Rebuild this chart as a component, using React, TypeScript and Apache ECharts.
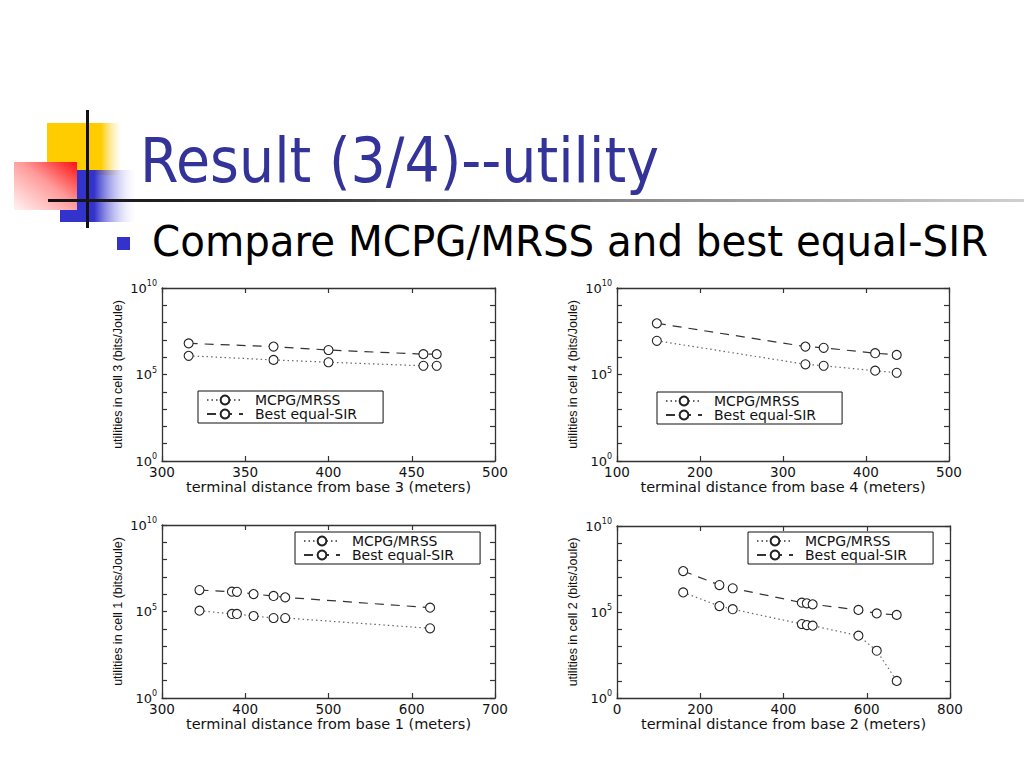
import React, { useEffect, useRef } from 'react';
import * as echarts from 'echarts';

// ---------- data ----------
const seriesNames = ['MCPG/MRSS', 'Best equal-SIR'];

// cell 3 (top-left)
const cell3Distance = [316, 367, 400, 457, 465];
const cell3Mcpg = [1.2e6, 7.0e5, 5.1e5, 3.2e5, 3.2e5];
const cell3Best = [6.3e6, 4.1e6, 2.6e6, 1.5e6, 1.5e6];

// cell 4 (top-right)
const cell4Distance = [148, 327, 349, 411, 437];
const cell4Mcpg = [8.9e6, 3.9e5, 3.2e5, 1.66e5, 1.26e5];
const cell4Best = [9.1e7, 4.1e6, 3.5e6, 1.7e6, 1.35e6];

// cell 1 (bottom-left)
const cell1Distance = [345, 384, 390, 410, 434, 448, 622];
const cell1Mcpg = [1.12e5, 7.2e4, 7.2e4, 5.5e4, 4.2e4, 4.2e4, 1.07e4];
const cell1Best = [1.74e6, 1.4e6, 1.38e6, 1.02e6, 7.9e5, 6.6e5, 1.66e5];

// cell 2 (bottom-right)
const cell2Distance = [159, 246, 278, 444, 456, 470, 580, 624, 672];
const cell2Mcpg = [1.38e6, 2.2e5, 1.45e5, 2.0e4, 1.74e4, 1.6e4, 4.2e3, 5.6e2, 9.8];
const cell2Best = [2.4e7, 3.7e6, 2.4e6, 3.5e5, 3.2e5, 2.8e5, 1.32e5, 8.3e4, 6.8e4];

// axis ranges (y axis in decades: 10^0 .. 10^10, a tick every decade)
const cellNumbers = [3, 4, 1, 2];
const xMins = [300, 100, 300, 0];
const xMaxs = [500, 500, 700, 800];
const xSteps = [50, 100, 100, 200];
const yMinExp = 0;
const yMaxExp = 10;
const yLabelExponents = [0, 5, 10];

const titleText = 'Result (3/4)--utility';
const bulletText = 'Compare MCPG/MRSS and best equal-SIR';

// ---------- layout ----------
const FONT = 'DejaVu Sans';
const grids = [
  { left: 162, top: 288, width: 333, height: 173 },
  { left: 617, top: 288, width: 332, height: 173 },
  { left: 162, top: 525, width: 333, height: 173 },
  { left: 617, top: 526, width: 333, height: 172 },
];
const legendPos = [
  { left: 198, top: 391 },
  { left: 657, top: 392 },
  { left: 295, top: 532 },
  { left: 748, top: 532 },
];

const panelData = [
  { dist: cell3Distance, mcpg: cell3Mcpg, best: cell3Best },
  { dist: cell4Distance, mcpg: cell4Mcpg, best: cell4Best },
  { dist: cell1Distance, mcpg: cell1Mcpg, best: cell1Best },
  { dist: cell2Distance, mcpg: cell2Mcpg, best: cell2Best },
];

const AXIS_COLOR = '#333';

function buildOption() {
  const xAxis: any[] = [];
  const yAxis: any[] = [];
  const series: any[] = [];
  const legend: any[] = [];

  grids.forEach((_, i) => {
    const common = {
      gridIndex: i,
      axisLine: { show: true, onZero: false, lineStyle: { color: AXIS_COLOR, width: 1.3 } },
      axisTick: { show: true, inside: true, length: 5, lineStyle: { color: AXIS_COLOR, width: 1.2 } },
      splitLine: { show: false },
    };
    xAxis.push({
      ...common,
      type: 'value',
      position: 'bottom',
      min: xMins[i],
      max: xMaxs[i],
      interval: xSteps[i],
      axisLabel: { margin: 4, fontFamily: FONT, fontSize: 13.5, color: '#111' },
      name: `terminal distance from base ${cellNumbers[i]} (meters)`,
      nameLocation: 'middle',
      nameGap: 18,
      nameTextStyle: { fontFamily: FONT, fontSize: 14.5, color: '#111' },
    });
    xAxis.push({
      ...common,
      type: 'value',
      position: 'top',
      min: xMins[i],
      max: xMaxs[i],
      interval: xSteps[i],
      axisLabel: { show: false },
    });
    const yCommon = {
      ...common,
      type: 'value',
      min: yMinExp,
      max: yMaxExp,
      interval: 1,
    };
    yAxis.push({
      ...yCommon,
      position: 'left',
      axisLabel: {
        margin: 5,
        formatter: (e: number) =>
          yLabelExponents.indexOf(Math.round(e)) >= 0 ? `{b|10}{s|${Math.round(e)}}` : '',
        rich: {
          b: { fontFamily: FONT, fontSize: 13, color: '#111' },
          s: { fontFamily: FONT, fontSize: 8, color: '#111', padding: [0, 0, 9, 0] },
        },
      },
      name: `utilities in cell ${cellNumbers[i]} (bits/Joule)`,
      nameLocation: 'middle',
      nameGap: 38,
      nameTextStyle: { fontFamily: 'Liberation Sans', fontSize: 12.5, color: '#111' },
    });
    yAxis.push({
      ...yCommon,
      position: 'right',
      axisLabel: { show: false },
    });

    const d = panelData[i];
    const symbolStyle = { color: '#fff', borderColor: '#222', borderWidth: 1.1 };
    series.push({
      name: seriesNames[0],
      type: 'line',
      xAxisIndex: i * 2,
      yAxisIndex: i * 2,
      data: d.dist.map((x, k) => [x, Math.log10(d.mcpg[k])]),
      symbol: 'circle',
      symbolSize: 9,
      itemStyle: symbolStyle,
      lineStyle: { color: '#666', width: 1.2, type: [1.5, 3] },
    });
    series.push({
      name: seriesNames[1],
      type: 'line',
      xAxisIndex: i * 2,
      yAxisIndex: i * 2,
      data: d.dist.map((x, k) => [x, Math.log10(d.best[k])]),
      symbol: 'circle',
      symbolSize: 9,
      itemStyle: symbolStyle,
      lineStyle: { color: '#333', width: 1.2, type: [9, 7] },
    });

    legend.push({
      left: legendPos[i].left,
      top: legendPos[i].top,
      orient: 'vertical',
      data: seriesNames,
      selectedMode: false,
      itemWidth: 36,
      itemHeight: 11,
      itemGap: 0,
      padding: [2, 26, 2, 8],
      borderColor: '#111',
      borderWidth: 1,
      backgroundColor: '#fff',
      textStyle: {
        fontFamily: FONT,
        fontSize: 14,
        lineHeight: 14,
        color: '#111',
        padding: [0, 0, 0, 7],
      },
    });
  });

  const G = echarts.graphic;
  const graphic: any[] = [
    // yellow square
    {
      type: 'rect',
      shape: { x: 47, y: 123, width: 75, height: 52 },
      style: {
        fill: new G.LinearGradient(0, 0, 1, 0, [
          { offset: 0, color: '#ffcc00' },
          { offset: 0.72, color: '#ffcc00' },
          { offset: 1, color: 'rgba(255,230,150,0)' },
        ]),
      },
    },
    // blue square
    {
      type: 'rect',
      shape: { x: 60, y: 170, width: 76, height: 52 },
      style: {
        fill: new G.LinearGradient(0, 0, 1, 0, [
          { offset: 0, color: '#3333cc' },
          { offset: 0.45, color: '#3333cc' },
          { offset: 1, color: 'rgba(220,220,255,0)' },
        ]),
      },
    },
    // red square
    {
      type: 'rect',
      shape: { x: 14, y: 162, width: 63, height: 48 },
      style: {
        fill: new G.LinearGradient(0, 1, 1, 0, [
          { offset: 0, color: '#fff4f4' },
          { offset: 0.55, color: '#ff9a9a' },
          { offset: 1, color: '#ff1010' },
        ]),
      },
    },
    // vertical line
    { type: 'rect', shape: { x: 86, y: 110, width: 3, height: 118 }, style: { fill: '#111' } },
    // horizontal line
    {
      type: 'rect',
      shape: { x: 48, y: 199, width: 976, height: 3 },
      style: {
        fill: new G.LinearGradient(0, 0, 1, 0, [
          { offset: 0, color: '#111' },
          { offset: 0.25, color: '#333' },
          { offset: 0.6, color: '#8a8a8a' },
          { offset: 1, color: '#d0d0d0' },
        ]),
      },
    },
    // title
    {
      type: 'text',
      x: 140,
      y: 160,
      scaleX: 0.88,
      style: {
        text: titleText,
        fontFamily: FONT,
        fontSize: 63,
        fill: '#333399',
        align: 'left',
        verticalAlign: 'middle',
      },
    },
    // bullet
    { type: 'rect', shape: { x: 117, y: 237, width: 13, height: 13 }, style: { fill: '#3333cc' } },
    {
      type: 'text',
      x: 152,
      y: 242,
      scaleX: 0.95,
      style: {
        text: bulletText,
        fontFamily: FONT,
        fontSize: 42.5,
        fill: '#000',
        align: 'left',
        verticalAlign: 'middle',
      },
    },
  ];

  return {
    animation: false,
    backgroundColor: '#fff',
    grid: grids.map((g) => ({ ...g, containLabel: false })),
    xAxis,
    yAxis,
    series,
    legend,
    graphic,
  };
}

export default function App() {
  const ref = useRef<HTMLDivElement>(null);
  useEffect(() => {
    if (!ref.current) return;
    const chart = echarts.init(ref.current, undefined, { renderer: 'svg' });
    chart.setOption(buildOption());
    return () => chart.dispose();
  }, []);
  return (
    <div
      ref={ref}
      style={{ position: 'absolute', left: 0, top: 0, width: 1024, height: 768, background: '#fff' }}
    />
  );
}
